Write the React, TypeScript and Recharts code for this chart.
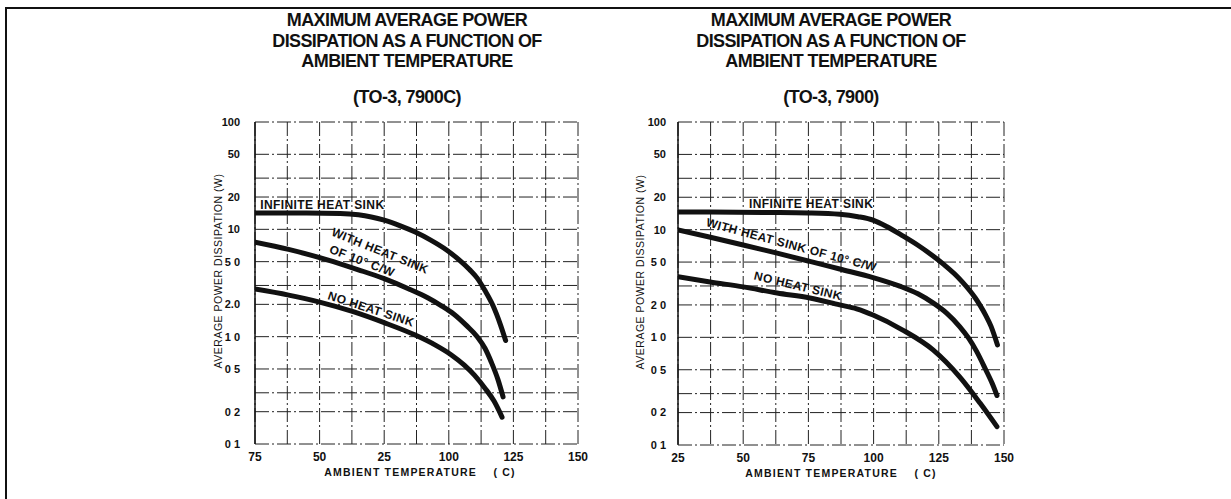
import React from "react";
import { CartesianGrid, Line, LineChart, ReferenceDot, XAxis, YAxis } from "recharts";

type Pt = { t: number; w: number };

// TO-3, 7900C (left panel)
const leftInfinite: Pt[] = [
  { t: 25, w: 14.2 }, { t: 45, w: 14.2 }, { t: 58, w: 14.06 }, { t: 65, w: 13.65 },
  { t: 70, w: 13.03 }, { t: 75, w: 12.16 }, { t: 81, w: 10.84 }, { t: 87, w: 9.44 },
  { t: 93, w: 7.94 }, { t: 99, w: 6.46 }, { t: 104, w: 5.19 }, { t: 108, w: 4.22 },
  { t: 111, w: 3.51 }, { t: 114, w: 2.69 }, { t: 117, w: 1.97 }, { t: 120, w: 1.29 },
  { t: 122, w: 0.92 },
];
const leftWithSink: Pt[] = [
  { t: 25, w: 7.6 }, { t: 38, w: 6.5 }, { t: 53, w: 5.2 }, { t: 65, w: 4.2 },
  { t: 75, w: 3.47 }, { t: 85, w: 2.75 }, { t: 92, w: 2.29 }, { t: 97, w: 1.95 },
  { t: 102, w: 1.62 }, { t: 107, w: 1.26 }, { t: 111, w: 1.0 }, { t: 114, w: 0.78 },
  { t: 116.5, w: 0.575 }, { t: 119, w: 0.4 }, { t: 121, w: 0.275 },
];
const leftNoSink: Pt[] = [
  { t: 25, w: 2.78 }, { t: 38, w: 2.44 }, { t: 50, w: 2.1 }, { t: 63, w: 1.71 },
  { t: 75, w: 1.35 }, { t: 87, w: 1.035 }, { t: 95, w: 0.83 }, { t: 101, w: 0.676 },
  { t: 106, w: 0.543 }, { t: 110, w: 0.436 }, { t: 114, w: 0.331 }, { t: 117.5, w: 0.251 },
  { t: 120.6, w: 0.178 },
];

// TO-3, 7900 (right panel)
const rightInfinite: Pt[] = [
  { t: 25, w: 14.6 }, { t: 60, w: 14.45 }, { t: 75, w: 14.3 }, { t: 87, w: 13.9 },
  { t: 94, w: 13.2 }, { t: 100, w: 12.2 }, { t: 105, w: 10.7 }, { t: 111, w: 8.81 },
  { t: 117, w: 7.16 }, { t: 122.8, w: 5.69 }, { t: 127, w: 4.73 }, { t: 131, w: 3.89 },
  { t: 134, w: 3.27 }, { t: 137, w: 2.69 }, { t: 139, w: 2.32 }, { t: 141, w: 1.95 },
  { t: 143, w: 1.6 }, { t: 145, w: 1.27 }, { t: 147.5, w: 0.85 },
];
const rightWithSink: Pt[] = [
  { t: 25, w: 9.93 }, { t: 37, w: 8.55 }, { t: 50, w: 7.21 }, { t: 63, w: 6.05 },
  { t: 75.6, w: 5.07 }, { t: 87, w: 4.31 }, { t: 99.8, w: 3.59 }, { t: 110, w: 2.99 },
  { t: 117, w: 2.54 }, { t: 122.8, w: 2.09 }, { t: 128, w: 1.68 }, { t: 133, w: 1.26 },
  { t: 136.5, w: 0.977 }, { t: 139.5, w: 0.741 }, { t: 143, w: 0.5 }, { t: 145.5, w: 0.372 },
  { t: 147.3, w: 0.288 },
];
const rightNoSink: Pt[] = [
  { t: 25, w: 3.66 }, { t: 37.3, w: 3.27 }, { t: 50, w: 2.94 }, { t: 63, w: 2.58 },
  { t: 75.6, w: 2.32 }, { t: 87, w: 2.0 }, { t: 93.5, w: 1.84 }, { t: 99.8, w: 1.61 },
  { t: 111, w: 1.175 }, { t: 122.8, w: 0.764 }, { t: 133, w: 0.429 }, { t: 140.8, w: 0.245 },
  { t: 147.3, w: 0.148 },
];

const xTicks = [25, 50, 75, 100, 125, 150];
const leftXLabels = ["75", "50", "25", "100", "125", "150"];
const rightXLabels = ["25", "50", "75", "100", "125", "150"];

const yTicks = [0.1, 0.2, 0.5, 1, 2, 5, 10, 20, 50, 100];
const leftYLabels = ["0 1", "0 2", "0 5", "1 0", "2.0", "5 0", "10", "20", "50", "100"];
const rightYLabels = ["0 1", "0 2", "0 5", "1 0", "2 0", "5 0", "10", "20", "50", "100"];

const gridWatts = [0.1, 0.2, 0.3, 0.4, 0.5, 1, 2, 3, 4, 5, 10, 20, 30, 40, 50, 100];
const gridTemps = [25, 37.5, 50, 62.5, 75, 87.5, 100, 112.5, 125, 137.5, 150];

const titleLines = ["MAXIMUM AVERAGE POWER", "DISSIPATION AS A FUNCTION OF", "AMBIENT TEMPERATURE"];

type Note = { text: string; t: number; w: number; angle: number };

const leftNotes: Note[] = [
  { text: "INFINITE HEAT SINK", t: 27, w: 17, angle: 0 },
  { text: "WITH HEAT SINK", t: 73.4, w: 6.3, angle: 22 },
  { text: "OF 10° C/W", t: 66.4, w: 5.07, angle: 21 },
  { text: "NO HEAT SINK", t: 69.9, w: 1.81, angle: 18 },
];
const rightNotes: Note[] = [
  { text: "INFINITE HEAT SINK", t: 52.2, w: 17.4, angle: 0 },
  { text: "WITH HEAT SINK OF 10° C/W", t: 68.5, w: 7.2, angle: 15 },
  { text: "NO HEAT SINK", t: 71, w: 3.0, angle: 13.5 },
];

const FONT = "'Liberation Sans', Arial, Helvetica, sans-serif";
const INK = "#111";

interface PanelProps {
  left: number;
  width: number;
  margin: { top: number; right: number; bottom: number; left: number };
  tickGap: number;
  series: Pt[][];
  notes: Note[];
  xLabels: string[];
  yLabels: string[];
}

function Panel({ left, width, margin, tickGap, series, notes, xLabels, yLabels }: PanelProps) {
  return (
    <div style={{ position: "absolute", left, top: 0 }}>
      <LineChart width={width} height={499} margin={margin}>
        <CartesianGrid
          horizontalValues={gridWatts}
          verticalValues={gridTemps}
          stroke="#222"
          strokeWidth={1}
          strokeDasharray="14 3 2 3"
        />
        <XAxis
          dataKey="t"
          type="number"
          domain={[25, 150]}
          ticks={xTicks}
          tickFormatter={(v: number) => xLabels[xTicks.indexOf(v)] ?? ""}
          axisLine={false}
          tickLine={false}
          tickMargin={2}
          height={30}
          tick={{ fontSize: 12, fontWeight: 700, fill: INK, fontFamily: FONT }}
          allowDataOverflow
        />
        <YAxis
          type="number"
          scale="log"
          domain={[0.1, 100]}
          ticks={yTicks}
          tickFormatter={(v: number) => yLabels[yTicks.indexOf(v)] ?? ""}
          axisLine={{ stroke: INK, strokeWidth: 1.5 }}
          tickLine={false}
          tickMargin={tickGap}
          width={50}
          tick={{ fontSize: 11, fontWeight: 700, fill: INK, fontFamily: FONT }}
          allowDataOverflow
        />
        {series.map((s, i) => (
          <Line
            key={i}
            data={s}
            dataKey="w"
            type="monotone"
            stroke={INK}
            strokeWidth={5}
            strokeLinecap="round"
            dot={false}
            activeDot={false}
            isAnimationActive={false}
          />
        ))}
        {notes.map((n) => (
          <ReferenceDot
            key={n.text}
            x={n.t}
            y={n.w}
            r={0}
            ifOverflow="visible"
            shape={(p: any) => (
              <text
                x={p.cx}
                y={p.cy}
                transform={`rotate(${n.angle} ${p.cx} ${p.cy})`}
                textAnchor={n.angle === 0 ? "start" : "middle"}
                dominantBaseline="central"
                fontFamily={FONT}
                fontWeight={700}
                fontSize={12}
                letterSpacing={0.4}
                fill={INK}
              >
                {n.text}
              </text>
            )}
          />
        ))}
      </LineChart>
    </div>
  );
}

function Title({ cx, sub }: { cx: number; sub: string }) {
  const rows = [...titleLines, sub];
  const tops = [11, 32, 52, 88];
  return (
    <>
      {rows.map((r, i) => (
        <div
          key={r}
          style={{
            position: "absolute",
            left: cx - 250,
            width: 500,
            top: tops[i],
            textAlign: "center",
            fontFamily: FONT,
            fontWeight: 700,
            fontSize: 18,
            lineHeight: "18px",
            letterSpacing: -0.6,
            color: INK,
            whiteSpace: "nowrap",
          }}
        >
          {r}
        </div>
      ))}
    </>
  );
}

function AxisText({ x, y, text, rotate }: { x: number; y: number; text: string; rotate?: boolean }) {
  return (
    <div
      style={{
        position: "absolute",
        left: x,
        top: y,
        transform: `translate(-50%, -50%)${rotate ? " rotate(-90deg)" : ""}`,
        fontFamily: FONT,
        fontSize: 10.5,
        fontWeight: rotate ? 400 : 700,
        letterSpacing: rotate ? 0.5 : 1.2,
        color: INK,
        whiteSpace: "pre",
        lineHeight: "12px",
      }}
    >
      {text}
    </div>
  );
}

export default function App() {
  return (
    <div
      style={{
        position: "absolute",
        left: 0,
        top: 0,
        width: 1231,
        height: 499,
        background: "#fff",
        overflow: "hidden",
      }}
    >
      <div
        style={{
          position: "absolute",
          left: 5,
          top: 7,
          right: -4,
          bottom: -4,
          borderTop: `2.5px solid ${INK}`,
          borderLeft: `2.5px solid ${INK}`,
        }}
      />
      <Title cx={407} sub="(TO-3, 7900C)" />
      <Title cx={831} sub="(TO-3, 7900)" />
      <Panel
        left={200}
        width={400}
        margin={{ top: 122, right: 22, bottom: 25, left: 5 }}
        tickGap={9}
        series={[leftInfinite, leftWithSink, leftNoSink]}
        notes={leftNotes}
        xLabels={leftXLabels}
        yLabels={leftYLabels}
      />
      <Panel
        left={620}
        width={410}
        margin={{ top: 122, right: 26, bottom: 24, left: 8 }}
        tickGap={6}
        series={[rightInfinite, rightWithSink, rightNoSink]}
        notes={rightNotes}
        xLabels={rightXLabels}
        yLabels={rightYLabels}
      />
      <AxisText x={218} y={271} text="AVERAGE POWER DISSIPATION (W)" rotate />
      <AxisText x={640} y={272} text="AVERAGE POWER DISSIPATION (W)" rotate />
      <AxisText x={420} y={472} text="AMBIENT TEMPERATURE    ( C)" />
      <AxisText x={841} y={473} text="AMBIENT TEMPERATURE    ( C)" />
    </div>
  );
}
